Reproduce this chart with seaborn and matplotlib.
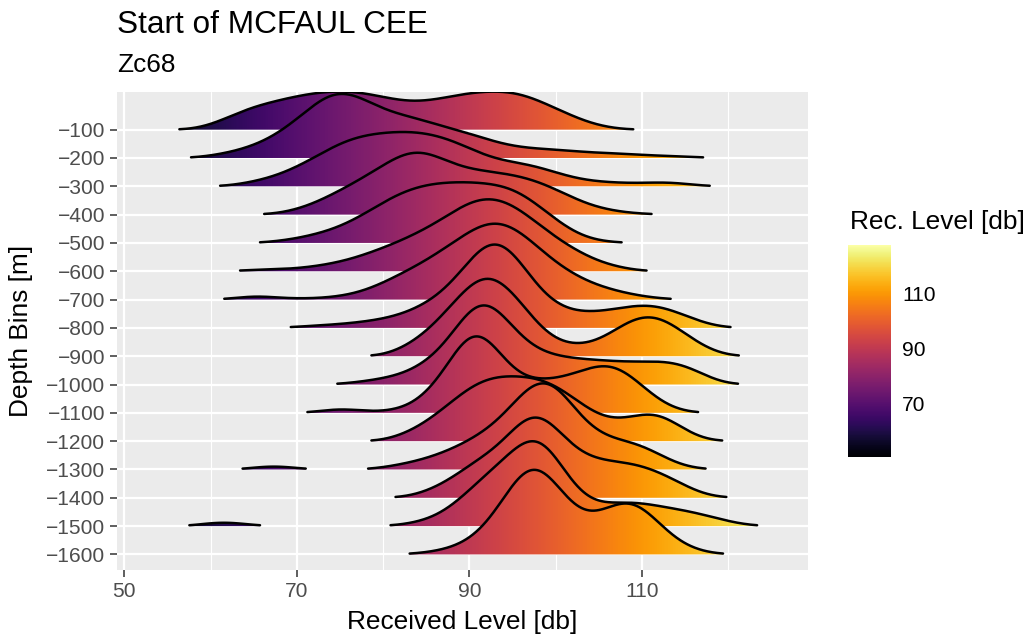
import numpy as np
import seaborn as sns
import matplotlib
matplotlib.use("Agg")
import matplotlib.pyplot as plt
from matplotlib.patches import Polygon
from matplotlib.colors import Normalize
from matplotlib.cm import ScalarMappable

# depth bins (top to bottom) and received level grid the counts are binned on
depth_bins = [-100, -200, -300, -400, -500, -600, -700, -800,
              -900, -1000, -1100, -1200, -1300, -1400, -1500, -1600]
level_grid = [56, 58, 60, 62, 64, 66, 68, 70, 72, 74, 76, 78, 80, 82, 84, 86, 88, 90,
              92, 94, 96, 98, 100, 102, 104, 106, 108, 110, 112, 114, 116, 118, 120, 122, 124]

# number of detections per received level, one list per depth bin
counts_100 = [0, 0, 4, 12, 20, 25, 29, 33, 36, 38, 38, 36, 32, 28, 27, 29, 33, 36,
              38, 38, 36, 29, 21, 13, 6, 2, 0, 0, 0, 0, 0, 0, 0, 0, 0]
counts_200 = [0, 0, 2, 5, 9, 15, 24, 37, 52, 66, 65, 56, 46, 42, 38, 33, 28, 24,
              18, 13, 10, 9, 8, 7, 5, 5, 4, 3, 2, 2, 1, 0, 0, 0, 0]
counts_300 = [0, 0, 0, 0, 3, 6, 11, 18, 27, 37, 45, 49, 51, 52, 52, 49, 44, 36,
              28, 24, 22, 19, 13, 8, 5, 4, 3, 3, 4, 4, 1, 0, 0, 0, 0]
counts_400 = [0, 0, 0, 0, 0, 0, 1, 5, 11, 20, 29, 39, 50, 62, 68, 61, 51, 46,
              44, 42, 39, 34, 26, 17, 9, 5, 2, 1, 0, 0, 0, 0, 0, 0, 0]
counts_500 = [0, 0, 0, 0, 0, 0, 2, 4, 8, 12, 19, 28, 39, 48, 54, 57, 58, 58,
              57, 55, 49, 36, 22, 10, 3, 1, 0, 0, 0, 0, 0, 0, 0, 0, 0]
counts_600 = [0, 0, 0, 0, 1, 2, 2, 3, 5, 8, 12, 18, 25, 32, 41, 50, 63, 75,
              81, 77, 66, 50, 36, 24, 14, 7, 3, 0, 0, 0, 0, 0, 0, 0, 0]
counts_700 = [0, 0, 0, 0, 3, 4, 1, 1, 1, 2, 4, 8, 15, 23, 31, 40, 51, 62,
              72, 72, 62, 47, 33, 23, 15, 10, 6, 3, 1, 0, 0, 0, 0, 0, 0]
counts_800 = [0, 0, 0, 0, 0, 0, 0, 1, 2, 3, 4, 6, 8, 12, 18, 27, 40, 62,
              84, 84, 60, 35, 20, 15, 14, 16, 19, 22, 21, 15, 8, 2, 0, 0, 0]
counts_900 = [0, 0, 0, 0, 0, 0, 0, 0, 0, 0, 0, 0, 0, 5, 13, 24, 40, 56,
              68, 58, 42, 22, 11, 8, 9, 15, 26, 33, 32, 23, 12, 4, 0, 0, 0]
counts_1000 = [0, 0, 0, 0, 0, 0, 0, 0, 0, 0, 1, 3, 5, 8, 14, 24, 40, 68,
               78, 58, 38, 28, 24, 22, 21, 20, 19, 19, 20, 19, 14, 4, 0, 0, 0]
counts_1100 = [0, 0, 0, 0, 0, 0, 0, 0, 0, 4, 4, 1, 1, 3, 9, 24, 48, 82,
               74, 45, 30, 29, 30, 34, 41, 46, 40, 24, 10, 2, 0, 0, 0, 0, 0]
counts_1200 = [0, 0, 0, 0, 0, 0, 0, 0, 0, 0, 0, 0, 0, 5, 12, 23, 36, 50,
               58, 60, 59, 58, 52, 40, 27, 19, 19, 26, 28, 16, 4, 0, 0, 0, 0]
counts_1300 = [0, 0, 0, 0, 0, 4, 5, 1, 0, 0, 0, 0, 2, 6, 10, 16, 24, 34,
               46, 62, 90, 112, 108, 72, 48, 37, 34, 30, 18, 6, 1, 0, 0, 0, 0]
counts_1400 = [0, 0, 0, 0, 0, 0, 0, 0, 0, 0, 0, 0, 0, 0, 3, 10, 20, 34,
               45, 56, 84, 96, 74, 50, 41, 38, 37, 34, 27, 18, 7, 1, 0, 0, 0]
counts_1500 = [0, 0, 4, 5, 2, 0, 0, 0, 0, 0, 0, 0, 0, 1, 4, 9, 20, 38,
               55, 70, 90, 104, 76, 40, 24, 23, 26, 25, 21, 18, 15, 10, 5, 1, 0]
counts_1600 = [0, 0, 0, 0, 0, 0, 0, 0, 0, 0, 0, 0, 0, 0, 1, 3, 7, 14,
               30, 58, 94, 104, 76, 47, 38, 48, 62, 55, 32, 14, 5, 1, 0, 0, 0]

bin_counts = [counts_100, counts_200, counts_300, counts_400, counts_500, counts_600,
              counts_700, counts_800, counts_900, counts_1000, counts_1100, counts_1200,
              counts_1300, counts_1400, counts_1500, counts_1600]

x_ticks = [50, 70, 90, 110]
legend_ticks = [70, 90, 110]

BW = 2.0          # joint bandwidth
REL_MIN = 0.01    # rel_min_height
SCALE = 3.04
FILL_LO, FILL_HI = 50.6, 127.6
XLIM = (49.15, 129.26)
YLIM = (-0.55, 16.33)

sns.set_theme(style="darkgrid", rc={
    "axes.facecolor": "#EBEBEB",
    "grid.color": "white",
    "axes.edgecolor": "none",
    "xtick.color": "#333333",
    "ytick.color": "#333333",
})
plt.rcParams["font.family"] = ["Liberation Sans", "DejaVu Sans"]


def kde(xs, counts):
    w = np.asarray(counts, dtype=float)
    lv = np.asarray(level_grid, dtype=float)
    z = (xs[:, None] - lv[None, :]) / BW
    return (np.exp(-0.5 * z ** 2) * w).sum(axis=1) / (w.sum() * BW * np.sqrt(2 * np.pi))


def runs(mask):
    idx = np.flatnonzero(mask)
    if len(idx) == 0:
        return []
    breaks = np.flatnonzero(np.diff(idx) > 1)
    starts = np.r_[idx[0], idx[breaks + 1]]
    ends = np.r_[idx[breaks], idx[-1]]
    return list(zip(starts, ends))


xs = np.linspace(FILL_LO, FILL_HI, 800)
dens = [kde(xs, c) for c in bin_counts]
gmax = max(d.max() for d in dens)

fig = plt.figure(figsize=(10.35, 6.38), dpi=100)
ax = fig.add_axes([117 / 1035, 1 - 570 / 638, 691 / 1035, 478 / 638])

norm = Normalize(FILL_LO, FILL_HI)
gradient = xs[None, :]
n = len(depth_bins)

for k, d in enumerate(dens):
    base = n - 1 - k
    keep = d >= REL_MIN * d.max()
    for s, e in runs(keep):
        xx = xs[s:e + 1]
        yy = base + d[s:e + 1] / gmax * SCALE
        verts = np.vstack([[xx[0], base], np.column_stack([xx, yy]), [xx[-1], base]])
        poly = Polygon(verts, closed=True, transform=ax.transData,
                       facecolor="none", edgecolor="none")
        im = ax.imshow(gradient, cmap="inferno", norm=norm, aspect="auto",
                       extent=[FILL_LO, FILL_HI, YLIM[0], YLIM[1]],
                       interpolation="bilinear", zorder=2 + k)
        im.set_clip_path(poly)
        sns.lineplot(x=xx, y=yy, ax=ax, color="black", linewidth=1.8,
                     estimator=None, sort=False, zorder=2.5 + k)

ax.set_xlim(*XLIM)
ax.set_ylim(*YLIM)
ax.set_xticks(x_ticks)
ax.set_xticks([60, 80, 100, 120], minor=True)
ax.set_yticks(range(n))
ax.set_yticklabels([f"\u2212{abs(v)}" for v in depth_bins[::-1]])
ax.grid(which="major", color="white", linewidth=1.6)
ax.grid(which="minor", axis="x", color="white", linewidth=0.8)
ax.set_axisbelow(True)
ax.tick_params(axis="both", which="major", length=4.8, width=1.1, labelsize=15.1,
               labelcolor="#4D4D4D", pad=3.6, bottom=True, left=True)
ax.tick_params(which="minor", length=0)
for sp in ax.spines.values():
    sp.set_visible(False)
ax.set_xlabel("")
ax.set_ylabel("")

fig.text(117 / 1035, 1 - 33 / 638, "Start of MCFAUL CEE", fontsize=22.7,
         color="black", va="baseline")
fig.text(117 / 1035, 1 - 72 / 638, "Zc68", fontsize=18.9, color="black", va="baseline")
fig.text(462 / 1035, 1 - 629 / 638, "Received Level [db]", fontsize=18.9,
         color="black", ha="center", va="baseline")
fig.text(21 / 1035, 1 - 331 / 638, "Depth Bins [m]", fontsize=18.9, color="black",
         ha="center", va="center", rotation=90)

# colour bar
cax = fig.add_axes([848 / 1035, 1 - 457 / 638, 43 / 1035, 212 / 638])
cb = fig.colorbar(ScalarMappable(norm=norm, cmap="inferno"), cax=cax, ticks=legend_ticks)
cb.outline.set_visible(False)
cax.grid(False)
cax.yaxis.set_ticks_position("both")
cax.tick_params(axis="y", direction="in", length=8, width=1.0, color="white",
                labelsize=15.1, labelcolor="black", pad=8, left=True, right=True,
                labelleft=False, labelright=True)
fig.text(850 / 1035, 1 - 229 / 638, "Rec. Level [db]", fontsize=18.9,
         color="black", va="baseline")

fig.savefig("out.png", dpi=100)
